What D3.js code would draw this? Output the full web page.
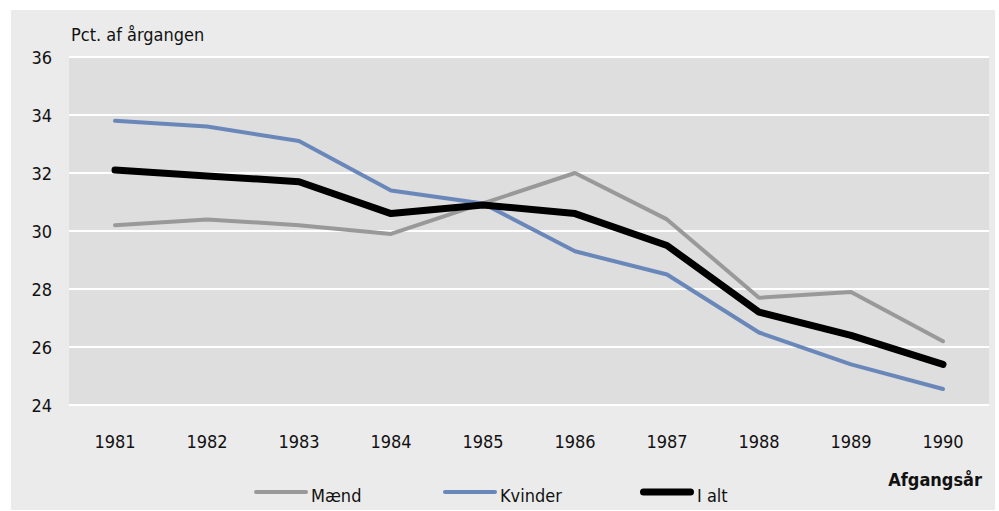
<!DOCTYPE html>
<html>
<head>
<meta charset="utf-8">
<script src="https://cdn.jsdelivr.net/npm/d3@7"></script>
<style>
  body { margin: 0; background: #fff; }
  text { font-family: "DejaVu Sans Condensed", "Open Sans", sans-serif; fill: #111; }
</style>
</head>
<body>
<svg id="canvas" width="999" height="511"></svg>
<script>
let years = ['1981', '1982', '1983', '1984', '1985', '1986', '1987', '1988', '1989', '1990']
let maend = [30.2, 30.4, 30.2, 29.9, 30.95, 32.0, 30.4, 27.7, 27.9, 26.2]
let kvinder = [33.8, 33.6, 33.1, 31.4, 30.95, 29.3, 28.5, 26.5, 25.4, 24.55]
let ialt = [32.1, 31.9, 31.7, 30.6, 30.9, 30.6, 29.5, 27.2, 26.4, 25.4]
let yTicks = [24, 26, 28, 30, 32, 34, 36]

let series = [
    {name: 'Mænd', values: maend, color: '#999999', width: 4},
    {name: 'Kvinder', values: kvinder, color: '#6a87ba', width: 4},
    {name: 'I alt', values: ialt, color: '#000000', width: 7}
]

let svg = d3.select('#canvas')

let plotLeft = 69, plotRight = 989, plotTop = 57, plotBottom = 405

svg.append('rect')
    .attr('x', 11).attr('y', 10)
    .attr('width', 984).attr('height', 500)
    .attr('fill', '#ebebeb')

svg.append('rect')
    .attr('x', plotLeft).attr('y', plotTop)
    .attr('width', plotRight - plotLeft).attr('height', plotBottom - plotTop)
    .attr('fill', '#dedede')

let xScale = d3.scaleBand()
    .domain(years)
    .range([plotLeft, plotRight])

let yScale = d3.scaleLinear()
    .domain([24, 36])
    .range([plotBottom, plotTop])

// grid
svg.selectAll('.grid')
    .data(yTicks)
    .enter()
    .append('line')
    .attr('x1', plotLeft).attr('x2', plotRight)
    .attr('y1', (d) => yScale(d)).attr('y2', (d) => yScale(d))
    .attr('stroke', '#ffffff')
    .attr('stroke-width', 2)

// y labels
svg.selectAll('.ylab')
    .data(yTicks)
    .enter()
    .append('text')
    .attr('x', 52)
    .attr('y', (d) => yScale(d) + 7)
    .attr('text-anchor', 'end')
    .style('font-size', '18px')
    .text((d) => d)

// x labels
svg.selectAll('.xlab')
    .data(years)
    .enter()
    .append('text')
    .attr('x', (d) => xScale(d) + xScale.bandwidth() / 2)
    .attr('y', 448)
    .attr('text-anchor', 'middle')
    .style('font-size', '18px')
    .text((d) => d)

svg.append('text')
    .attr('x', 71).attr('y', 41)
    .style('font-size', '18px')
    .text('Pct. af årgangen')

svg.append('text')
    .attr('x', 982).attr('y', 486)
    .attr('text-anchor', 'end')
    .style('font-size', '18px')
    .style('font-weight', 'bold')
    .text('Afgangsår')

let line = d3.line()
    .x((d, i) => xScale(years[i]) + xScale.bandwidth() / 2)
    .y((d) => yScale(d))

svg.selectAll('.series')
    .data(series)
    .enter()
    .append('path')
    .attr('d', (d) => line(d.values))
    .attr('fill', 'none')
    .attr('stroke', (d) => d.color)
    .attr('stroke-width', (d) => d.width)
    .attr('stroke-linecap', 'round')
    .attr('stroke-linejoin', 'round')

// legend
let legendX = [254, 443, 640]
let legend = svg.selectAll('.legend')
    .data(series)
    .enter()
    .append('g')
    .attr('transform', (d, i) => 'translate(' + legendX[i] + ', 492)')

legend.append('line')
    .attr('x1', (d) => d.width / 2).attr('x2', (d) => 54 - d.width / 2)
    .attr('y1', 0).attr('y2', 0)
    .attr('stroke', (d) => d.color)
    .attr('stroke-width', (d) => d.width)
    .attr('stroke-linecap', 'round')

legend.append('text')
    .attr('x', 57).attr('y', 10)
    .style('font-size', '18px')
    .text((d) => d.name)
</script>
</body>
</html>
